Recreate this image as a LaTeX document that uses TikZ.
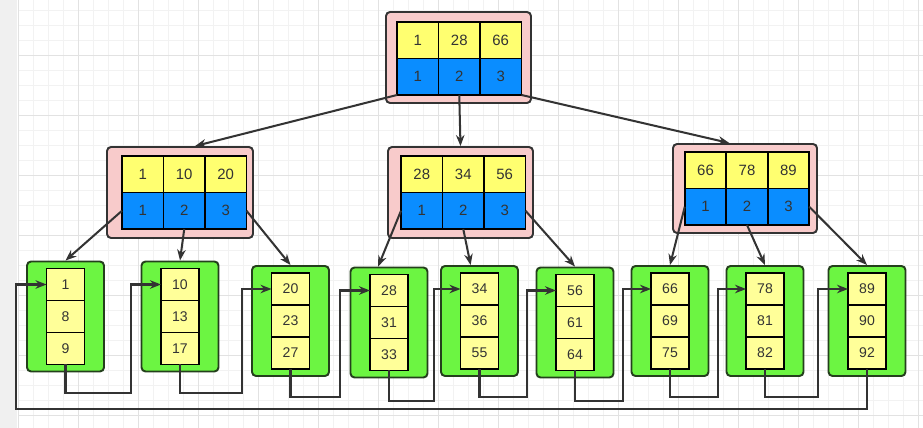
\documentclass[tikz,border=0pt]{standalone}
\usepackage{fontspec}
\setmainfont{Liberation Sans}
\usetikzlibrary{arrows.meta, positioning}

\definecolor{pagegray}{HTML}{F0F0F0}
\definecolor{gridminor}{HTML}{F2F2F2}
\definecolor{gridmajor}{HTML}{E2E2E2}
\definecolor{nodepink}{HTML}{F8CBCB}
\definecolor{keyyellow}{HTML}{FFFF70}
\definecolor{leafyellow}{HTML}{FFFF99}
\definecolor{ptrblue}{HTML}{0A8DFF}
\definecolor{leafgreen}{HTML}{6CF542}
\definecolor{leafborder}{HTML}{24401C}
\definecolor{linkgray}{HTML}{333333}

\tikzset{
  innerbox/.style={draw=linkgray, fill=nodepink, line width=1.1pt, rounded corners=0.08cm,
    minimum width=2.9cm, minimum height=1.82cm, inner sep=0pt},
  keycell/.style={draw=black, fill=keyyellow, line width=1.1pt, minimum width=0.83cm,
    minimum height=0.73cm, inner sep=0pt, outer sep=0pt, text=linkgray,
    font=\fontsize{8.5}{10}\selectfont},
  ptrcell/.style={keycell, fill=ptrblue},
  leafbox/.style={draw=leafborder, fill=leafgreen, line width=1.1pt, rounded corners=0.08cm,
    minimum width=1.54cm, minimum height=2.2cm, inner sep=0pt},
  leafcell/.style={keycell, fill=leafyellow, minimum width=0.76cm, minimum height=0.64cm,
    font=\fontsize{8}{10}\selectfont},
  treearrow/.style={draw=linkgray, line width=1.15pt, -{Stealth[length=0.22cm, width=0.17cm]}},
  leaflink/.style={treearrow}
}

\begin{document}
\begin{tikzpicture}[x=0.02cm, y=-0.02cm]

\useasboundingbox (0,0) rectangle (923,428);
\fill[white] (0,0) rectangle (923,428);
\fill[pagegray] (0,0) rectangle (17,428);
\foreach \gx in {33,48,...,918} \draw[gridminor, line width=0.5pt] (\gx,0) -- (\gx,428);
\foreach \gy in {10,25,...,425} \draw[gridminor, line width=0.5pt] (18,\gy) -- (923,\gy);
\foreach \gx in {18,78,...,918} \draw[gridmajor, line width=0.5pt] (\gx,0) -- (\gx,428);
\foreach \gy in {55,115,...,415} \draw[gridmajor, line width=0.5pt] (18,\gy) -- (923,\gy);

% root
\node[innerbox] (rootbox) at (458.5,57.5) {};
\node[keycell] (rk2) at (459.25,40.25) {28};
\node[keycell, left=0pt of rk2] (rk1) {1};
\node[keycell, right=0pt of rk2] (rk3) {66};
\node[ptrcell, below=0pt of rk1] (rp1) {1};
\node[ptrcell, below=0pt of rk2] (rp2) {2};
\node[ptrcell, below=0pt of rk3] (rp3) {3};

% second level
\node[innerbox, minimum width=2.92cm] (lbox) at (180,192.5) {};
\node[keycell] (lk2) at (184.25,174.25) {10};
\node[keycell, left=0pt of lk2] (lk1) {1};
\node[keycell, right=0pt of lk2] (lk3) {20};
\node[ptrcell, below=0pt of lk1] (lp1) {1};
\node[ptrcell, below=0pt of lk2] (lp2) {2};
\node[ptrcell, below=0pt of lk3] (lp3) {3};

\node[innerbox] (mbox) at (460.5,192.5) {};
\node[keycell] (mk2) at (463.25,174.25) {34};
\node[keycell, left=0pt of mk2] (mk1) {28};
\node[keycell, right=0pt of mk2] (mk3) {56};
\node[ptrcell, below=0pt of mk1] (mp1) {1};
\node[ptrcell, below=0pt of mk2] (mp2) {2};
\node[ptrcell, below=0pt of mk3] (mp3) {3};

\node[innerbox, minimum width=2.88cm, minimum height=1.78cm] (rbox) at (745,188.5) {};
\node[keycell] (rrk2) at (747,170.25) {78};
\node[keycell, left=0pt of rrk2] (rrk1) {66};
\node[keycell, right=0pt of rrk2] (rrk3) {89};
\node[ptrcell, below=0pt of rrk1] (rrp1) {1};
\node[ptrcell, below=0pt of rrk2] (rrp2) {2};
\node[ptrcell, below=0pt of rrk3] (rrp3) {3};

% leaves
\node[leafbox] (lf1) at (65.5,316.5) {};
\node[leafcell] (lf1b) at (lf1) {8};
\node[leafcell, above=0pt of lf1b] (lf1a) {1};
\node[leafcell, below=0pt of lf1b] (lf1c) {9};

\node[leafbox] (lf2) at (180,316.5) {};
\node[leafcell] (lf2b) at (lf2) {13};
\node[leafcell, above=0pt of lf2b] (lf2a) {10};
\node[leafcell, below=0pt of lf2b] (lf2c) {17};

\node[leafbox] (lf3) at (290.5,321) {};
\node[leafcell] (lf3b) at (lf3) {23};
\node[leafcell, above=0pt of lf3b] (lf3a) {20};
\node[leafcell, below=0pt of lf3b] (lf3c) {27};

\node[leafbox] (lf4) at (389,322.5) {};
\node[leafcell] (lf4b) at (lf4) {31};
\node[leafcell, above=0pt of lf4b] (lf4a) {28};
\node[leafcell, below=0pt of lf4b] (lf4c) {33};

\node[leafbox] (lf5) at (479.5,321) {};
\node[leafcell] (lf5b) at (lf5) {36};
\node[leafcell, above=0pt of lf5b] (lf5a) {34};
\node[leafcell, below=0pt of lf5b] (lf5c) {55};

\node[leafbox] (lf6) at (575,322.5) {};
\node[leafcell] (lf6b) at (lf6) {61};
\node[leafcell, above=0pt of lf6b] (lf6a) {56};
\node[leafcell, below=0pt of lf6b] (lf6c) {64};

\node[leafbox] (lf7) at (670,321) {};
\node[leafcell] (lf7b) at (lf7) {69};
\node[leafcell, above=0pt of lf7b] (lf7a) {66};
\node[leafcell, below=0pt of lf7b] (lf7c) {75};

\node[leafbox] (lf8) at (765,321) {};
\node[leafcell] (lf8b) at (lf8) {81};
\node[leafcell, above=0pt of lf8b] (lf8a) {78};
\node[leafcell, below=0pt of lf8b] (lf8c) {82};

\node[leafbox] (lf9) at (867,321) {};
\node[leafcell] (lf9b) at (lf9) {90};
\node[leafcell, above=0pt of lf9b] (lf9a) {89};
\node[leafcell, below=0pt of lf9b] (lf9c) {92};

% tree pointers
\draw[treearrow] (rp1.south west) -- (lbox.72);
\draw[treearrow] (rp2.south) -- (mbox.north);
\draw[treearrow] (rp3.south east) -- (rbox.109);

\draw[treearrow] (lp1.west) -- (lf1.north);
\draw[treearrow] (lp2.south) -- (lf2.north);
\draw[treearrow] (lp3.east) -- (lf3.north);
\draw[treearrow] (mp1.west) -- (lf4.101);
\draw[treearrow] (mp2.south) -- (lf5.99);
\draw[treearrow] (mp3.east) -- (lf6.north);
\draw[treearrow] (rrp1.west) -- (lf7.north);
\draw[treearrow] (rrp2.south) -- (lf8.north);
\draw[treearrow] (rrp3.east) -- (lf9.north);

% leaf chain
\draw[leaflink] (lf1c.south) |- (131,393) |- (lf2a.west);
\draw[leaflink] (lf2c.south) |- (242,393) |- (lf3a.west);
\draw[leaflink] (lf3c.south) |- (340,397) |- (lf4a.west);
\draw[leaflink] (lf4c.south) |- (434,401) |- (lf5a.west);
\draw[leaflink] (lf5c.south) |- (527,397) |- (lf6a.west);
\draw[leaflink] (lf6c.south) |- (623,401) |- (lf7a.west);
\draw[leaflink] (lf7c.south) |- (718,397) |- (lf8a.west);
\draw[leaflink] (lf8c.south) |- (818,397) |- (lf9a.west);
\draw[leaflink] (lf9c.south) |- (16,409) |- (lf1a.west);

\end{tikzpicture}
\end{document}
